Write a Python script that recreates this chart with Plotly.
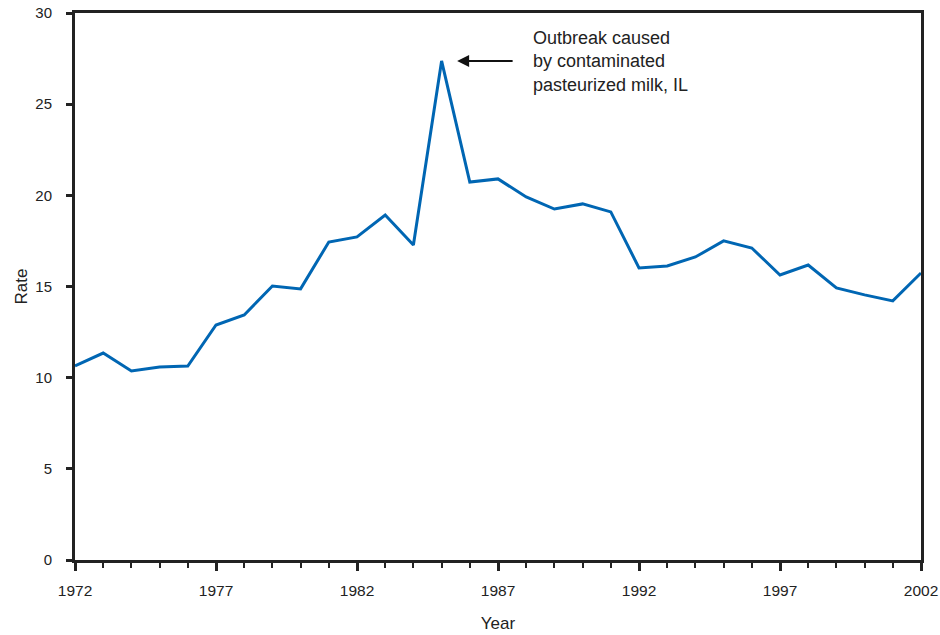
import plotly.graph_objects as go

years = list(range(1972, 2003))
rate = [10.64, 11.35, 10.37, 10.59, 10.64, 12.89, 13.44, 15.03, 14.87, 17.44,
        17.72, 18.92, 17.28, 27.37, 20.73, 20.90, 19.91, 19.25, 19.53, 19.09,
        16.02, 16.13, 16.62, 17.50, 17.11, 15.63, 16.18, 14.92, 14.54, 14.21,
        15.74]
x_ticks = [1972, 1977, 1982, 1987, 1992, 1997, 2002]
y_ticks = [0, 5, 10, 15, 20, 25, 30]
note = "Outbreak caused<br>by contaminated<br>pasteurized milk, IL"

font = "Liberation Sans, Arial, sans-serif"
fig = go.Figure()
fig.add_trace(go.Scatter(x=years, y=rate, mode="lines",
                         line=dict(color="#0066b3", width=3), cliponaxis=False,
                         showlegend=False))

fig.add_annotation(x=1985.55, y=27.37, ax=57, ay=0, axref="pixel", ayref="pixel",
                   text="", showarrow=True, arrowhead=2, arrowsize=1.2,
                   arrowwidth=2, arrowcolor="#111")
fig.add_annotation(x=1988.17, y=27.34, text=note, showarrow=False,
                   xanchor="left", yanchor="middle", align="left",
                   font=dict(family=font, size=18, color="#222"))

fig.update_layout(
    width=940, height=635,
    margin=dict(l=75, r=19, t=13, b=75, autoexpand=False),
    plot_bgcolor="white", paper_bgcolor="white",
    font=dict(family=font, size=15, color="#222"),
    xaxis=dict(range=[1972, 2002], tickvals=x_ticks, ticktext=[str(v) for v in x_ticks],
               automargin=False, tickfont=dict(size=15.5), ticklabelstandoff=6,
               showgrid=False, zeroline=False, showline=True, linecolor="#222",
               linewidth=3, mirror=True, ticks="outside", ticklen=8, tickwidth=3,
               tickcolor="#222",
               minor=dict(dtick=1, tick0=1972, ticks="outside", ticklen=5,
                          tickwidth=2, tickcolor="#222", showgrid=False),
               title=dict(text="Year", standoff=20, font=dict(size=17))),
    yaxis=dict(range=[0, 30], tickvals=y_ticks, showgrid=False, zeroline=False,
               automargin=False, tickfont=dict(size=15), ticklabelstandoff=11,
               showline=True, linecolor="#222", linewidth=3, mirror=True,
               ticks="outside", ticklen=6, tickwidth=3, tickcolor="#222",
               title=dict(text="Rate", standoff=4, font=dict(size=17))),
)
fig.write_html("out.html", config={"displayModeBar": False},
               post_script="document.body.style.margin='0';document.body.style.overflow='hidden';")
